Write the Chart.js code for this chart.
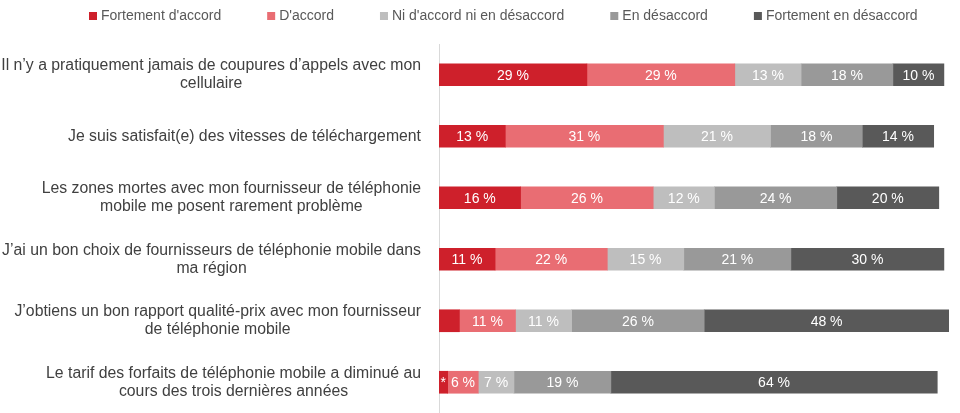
<!DOCTYPE html>
<html lang="fr">
<head>
<meta charset="utf-8">
<script src="https://cdn.jsdelivr.net/npm/chart.js@4/dist/chart.umd.min.js"></script>
<style>
  html, body { margin: 0; padding: 0; background: #ffffff; }
  #wrap { width: 960px; height: 413px; position: relative; }
</style>
</head>
<body>
<div id="wrap"><canvas id="chart-accord"></canvas></div>
<script>
const categories = [
  ["Il n’y a pratiquement jamais de coupures d’appels avec mon", "cellulaire"],
  ["Je suis satisfait(e) des vitesses de téléchargement"],
  ["Les zones mortes avec mon fournisseur de téléphonie", "mobile me posent rarement problème"],
  ["J’ai un bon choix de fournisseurs de téléphonie mobile dans", "ma région"],
  ["J’obtiens un bon rapport qualité-prix avec mon fournisseur", "de téléphonie mobile"],
  ["Le tarif des forfaits de téléphonie mobile a diminué au", "cours des trois dernières années"],
];

const seriesNames = [
  "Fortement d'accord",
  "D'accord",
  "Ni d'accord ni en désaccord",
  "En désaccord",
  "Fortement en désaccord",
];
const seriesColors = ["#CE202B", "#E96D73", "#BEBEBE", "#999999", "#595959"];

const fortementAccord = [29, 13, 16, 11, 4, 1.7];
const accord = [29, 31, 26, 22, 11, 6];
const neutre = [13, 21, 12, 15, 11, 7];
const desaccord = [18, 18, 24, 21, 26, 19];
const fortementDesaccord = [10, 14, 20, 30, 48, 64];

const seriesValues = [fortementAccord, accord, neutre, desaccord, fortementDesaccord];

const labelFont = '15.8px "Liberation Sans", Arial, sans-serif';
const valueFont = '14px "Liberation Sans", Arial, sans-serif';
const legendFont = '14px "Liberation Sans", Arial, sans-serif';

// tres petits segments : * ou rien
function formatValue(v) {
  if (v < 3) return "*";
  if (v < 5) return "";
  return v + " %";
}

const categoryLabelsPlugin = {
  id: "categoryLabels",
  afterDraw(chart) {
    const ctx = chart.ctx;
    const yScale = chart.scales.y;
    ctx.save();
    ctx.font = labelFont;
    ctx.fillStyle = "#404040";
    ctx.textAlign = "center";
    ctx.textBaseline = "middle";
    const right = yScale.right - 18;
    const lineHeight = 18;
    categories.forEach((lines, i) => {
      const yc = yScale.getPixelForValue(i);
      const widest = Math.max(...lines.map((l) => ctx.measureText(l).width));
      const cx = right - widest / 2;
      lines.forEach((line, j) => {
        ctx.fillText(line, cx, yc + (j - (lines.length - 1) / 2) * lineHeight);
      });
    });
    ctx.restore();
  },
};

const valueLabelsPlugin = {
  id: "valueLabels",
  afterDatasetsDraw(chart) {
    const ctx = chart.ctx;
    ctx.save();
    ctx.font = valueFont;
    ctx.fillStyle = "#ffffff";
    ctx.textAlign = "center";
    ctx.textBaseline = "middle";
    chart.data.datasets.forEach((ds, di) => {
      const meta = chart.getDatasetMeta(di);
      meta.data.forEach((bar, i) => {
        const txt = formatValue(ds.data[i]);
        if (!txt) return;
        ctx.fillText(txt, (bar.x + bar.base) / 2, bar.y + 1);
      });
    });
    ctx.restore();
  },
};

const topLegendPlugin = {
  id: "topLegend",
  afterDraw(chart) {
    const ctx = chart.ctx;
    ctx.save();
    ctx.font = legendFont;
    ctx.textBaseline = "middle";
    ctx.textAlign = "left";
    const box = 8;
    const gapText = 4;
    const gapItem = 46;
    const yc = 16;
    let x = 89;
    chart.data.datasets.forEach((ds) => {
      ctx.fillStyle = ds.backgroundColor;
      ctx.fillRect(x, yc - box / 2, box, box);
      ctx.fillStyle = "#595959";
      ctx.fillText(ds.label, x + box + gapText, yc);
      x += box + gapText + ctx.measureText(ds.label).width + gapItem;
    });
    ctx.restore();
  },
};

const chartAccord = new Chart(document.getElementById("chart-accord"), {
  type: "bar",
  data: {
    labels: categories.map((c) => c.join(" ")),
    datasets: seriesNames.map((name, i) => ({
      label: name,
      data: seriesValues[i],
      backgroundColor: seriesColors[i],
      borderWidth: 0,
      barThickness: 22,
    })),
  },
  options: {
    indexAxis: "y",
    responsive: true,
    maintainAspectRatio: false,
    animation: false,
    layout: {
      padding: { top: 44, right: 11, bottom: 0, left: 0 },
    },
    plugins: {
      legend: { display: false },
      tooltip: { enabled: false },
    },
    scales: {
      x: {
        stacked: true,
        min: 0,
        max: 100,
        display: false,
      },
      y: {
        stacked: true,
        grid: { display: false },
        border: { display: true, color: "#D9D9D9", width: 1 },
        ticks: { display: false },
        afterFit(scale) {
          scale.width = 439;
        },
      },
    },
  },
  plugins: [categoryLabelsPlugin, valueLabelsPlugin, topLegendPlugin],
});
</script>
</body>
</html>
